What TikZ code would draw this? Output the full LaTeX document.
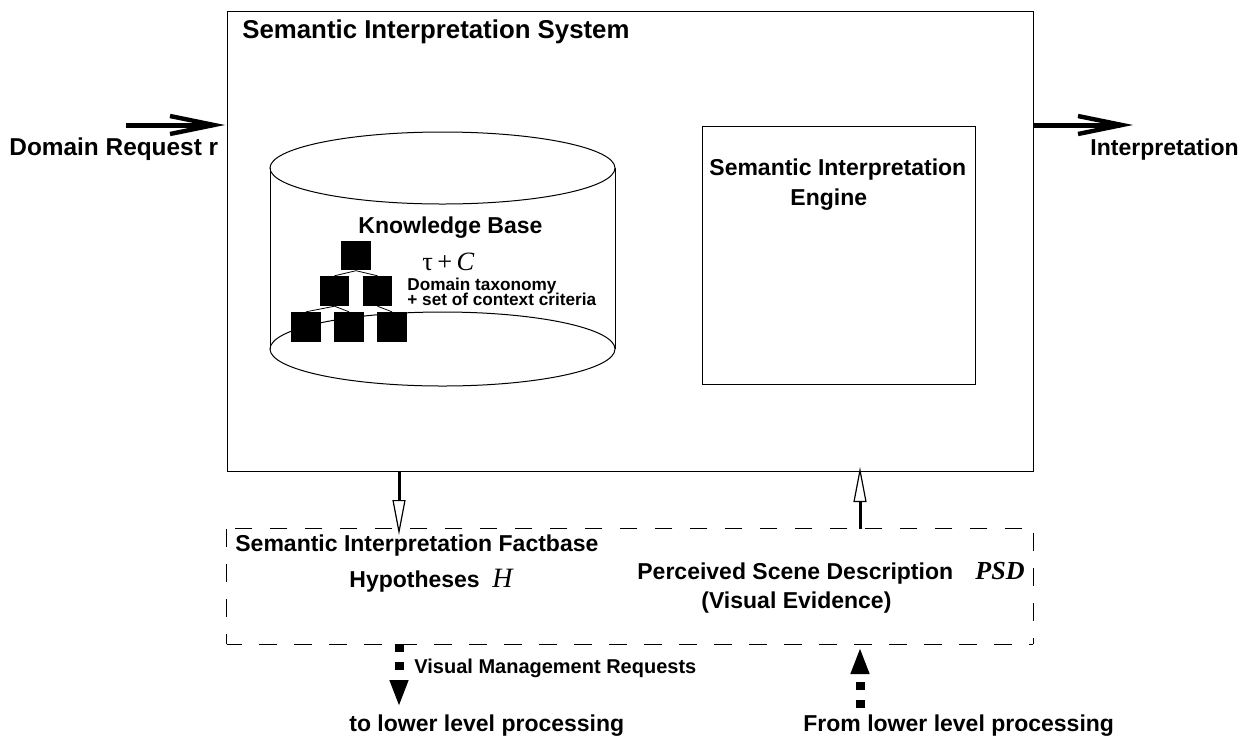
\documentclass[tikz,border=0pt]{standalone}
\usepackage{fontspec}
\setmainfont{Liberation Sans}
\newfontfamily\seriffont{Liberation Serif}
\usetikzlibrary{arrows.meta}
\tikzset{
  big/.style={font=\bfseries\fontsize{11.5}{13}\selectfont,anchor=base west,inner sep=0pt},
  small/.style={font=\bfseries\fontsize{8.6}{10}\selectfont,anchor=base west,inner sep=0pt},
  leaf/.style={fill=black,inner sep=0pt,minimum size=14.8pt},
  plainline/.style={line width=0.5pt},
  boxdash/.style={line width=0.5pt,dash pattern=on 8.75pt off 8.75pt},
  thickarrow/.style={line width=2.5pt,-{Straight Barb[length=22pt,width=9pt,line width=2.2pt]}},
  hollowarrow/.style={line width=1.5pt,-{Triangle[fill=white,line width=0.6pt,length=17.5pt,width=6.5pt]}},
  dotarrow/.style={line width=4.5pt,dash pattern=on 4.2pt off 4.8pt,-{Triangle[length=13.5pt,width=8.5pt]}}
}
\begin{document}
\begin{tikzpicture} [x=0.5pt,y=-0.5pt]
\useasboundingbox (0,0) rectangle (1252,735);
% system box
\node [draw,plainline,inner sep=0pt,minimum width=403pt,minimum height=230pt] (system) at (630,241) {};
\node [big,font=\bfseries\fontsize{12.9}{15}\selectfont] (systemtitle) at (242,38) {Semantic Interpretation System};
% engine box
\node [draw,plainline,inner sep=0pt,minimum width=136.5pt,minimum height=129pt] (engine) at (838.5,255) {};
\node [big] (enginetitle) at (709,175) {Semantic Interpretation};
\node [big] (enginetitle2) at (790,205) {Engine};
% knowledge base
\draw [plainline] (442.5,168) ellipse [x radius=172.5,y radius=36];
\draw [plainline] (442.5,349) ellipse [x radius=172.5,y radius=37];
\coordinate (basetl) at (270,168);
\coordinate (basebl) at (270,349);
\coordinate (basetr) at (615,168);
\coordinate (basebr) at (615,349);
\draw [plainline] (basetl)--(basebl);
\draw [plainline] (basetr)--(basebr);
\node [big] (basetitle) at (358,233) {Knowledge Base};
\node [anchor=base west,inner sep=0pt,font=\seriffont\fontsize{13.2}{15}\selectfont] (tauc) at (422,270) {τ\,+\,\textit{C}};
\node [small] (taxonomy) at (407,290) {Domain taxonomy};
\node [small] (criteria) at (407,305) {+ set of context criteria};
% taxonomy tree
\node [leaf] (leaf1) at (356,255.5) {};
\node [leaf] (leaf2) at (334.5,291) {};
\node [leaf] (leaf3) at (377.5,291) {};
\node [leaf] (leaf4) at (306,327) {};
\node [leaf] (leaf5) at (349,327) {};
\node [leaf] (leaf6) at (392,327) {};
\draw [line width=0.4pt] (leaf1.south)--(leaf2.north);
\draw [line width=0.4pt] (leaf1.south)--(leaf3.north);
\draw [line width=0.4pt] (leaf2.south)--(leaf4.north);
\draw [line width=0.4pt] (leaf2.south)--(leaf5.north);
\draw [line width=0.4pt] (leaf3.south)--(leaf6.north);
% factbase box
\node [inner sep=0pt,minimum width=403pt,minimum height=57.5pt] (factbase) at (630,586.5) {};
\draw [boxdash,dash phase=1.25pt] (factbase.south west)--(factbase.south east);
\draw [boxdash,dash phase=5.75pt] (factbase.south east)--(factbase.north east);
\draw [boxdash,dash phase=12pt] (factbase.north east)--(factbase.north west);
\draw [boxdash,dash phase=3.75pt] (factbase.south west)--(factbase.north west);
\node [big] (factbasetitle) at (235,551) {Semantic Interpretation Factbase};
\node [big] (hypotheses) at (349,587) {Hypotheses};
\node [anchor=base west,inner sep=0pt,font=\seriffont\itshape\fontsize{14}{16}\selectfont] (hypsymbol) at (492,587) {H};
\node [big] (perceived) at (637,579) {Perceived Scene Description};
\node [anchor=base west,inner sep=0pt,font=\seriffont\bfseries\itshape\fontsize{13}{15}\selectfont] (psd) at (975,579) {PSD};
\node [big] (evidence) at (701,608) {(Visual Evidence)};
% outside labels
\node [big,font=\bfseries\fontsize{12.2}{14}\selectfont] (request) at (9,155) {Domain Request r};
\node [big] (interpretation) at (1090,155) {Interpretation};
\node [small,font=\bfseries\fontsize{10}{12}\selectfont] (management) at (414,673) {Visual Management Requests};
\node [big] (tolower) at (349,731) {to lower level processing};
\node [big] (fromlower) at (803,731) {From lower level processing};
% arrows
\coordinate (requestfrom) at (126,125);
\coordinate (requestto) at (225,125);
\coordinate (resultfrom) at (1033,125);
\coordinate (resultto) at (1133,125);
\coordinate (hypfrom) at (399,471);
\coordinate (hypto) at (399,535);
\coordinate (psdfrom) at (860,529);
\coordinate (psdto) at (860,467);
\coordinate (lowfrom) at (399,644);
\coordinate (lowto) at (399,707);
\coordinate (upfrom) at (860,708);
\coordinate (upto) at (860,647);
\draw [thickarrow] (requestfrom)--(requestto);
\draw [thickarrow] (resultfrom)--(resultto);
\draw [hollowarrow] (hypfrom)--(hypto);
\draw [hollowarrow] (psdfrom)--(psdto);
\draw [dotarrow] (lowfrom)--(lowto);
\draw [dotarrow] (upfrom)--(upto);
\end{tikzpicture}
\end{document}
